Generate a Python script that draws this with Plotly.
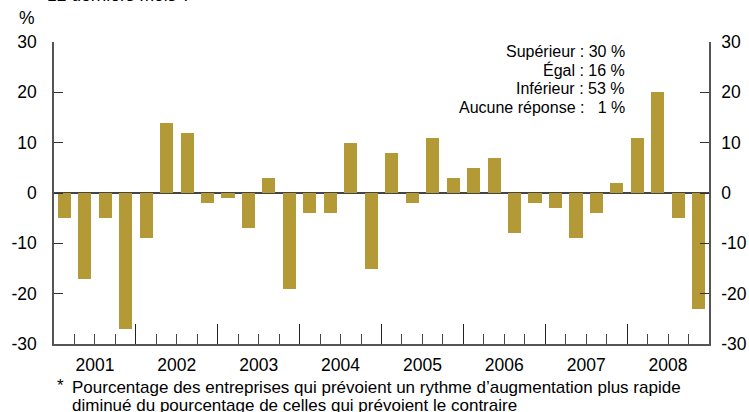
import plotly.graph_objects as go

years = ["2001", "2002", "2003", "2004", "2005", "2006", "2007", "2008"]
quarters_per_year = 4
values = [-5, -17, -5, -27,
          -9, 14, 12, -2,
          -1, -7, 3, -19,
          -4, -4, 10, -15,
          8, -2, 11, 3,
          5, 7, -8, -2,
          -3, -9, -4, 2,
          11, 20, -5, -23]
y_ticks = [-30, -20, -10, 0, 10, 20, 30]
y_ticktext = ["-30", "-20", "-10", "0", "10", "20", "30"]
box_lines = ["Supérieur : 30 %", "Égal : 16 %", "Inférieur : 53 %", "Aucune réponse :   1 %"]
footnote = ["Pourcentage des entreprises qui prévoient un rythme d\u2019augmentation plus rapide",
            "diminué du pourcentage de celles qui prévoient le contraire"]

n = len(values)
x = list(range(n))
FONT = "Liberation Sans, Arial, sans-serif"
AX = "#555555"

W, H = 749, 412
L, R, T, B = 54, 40, 42, 68
PW, PH = W - L - R, H - T - B


def px(xp):
    return (xp - L) / PW


def py(yp):
    return (H - B - yp) / PH


fig = go.Figure()
fig.add_trace(go.Bar(x=x, y=values, marker=dict(color="#B39A36", line=dict(width=0)),
                     width=0.64, showlegend=False, hoverinfo="skip"))

year_centers = [i * quarters_per_year + 1.5 for i in range(len(years))]
year_bounds = [i * quarters_per_year - 0.5 for i in range(len(years) + 1)]

fig.update_layout(
    width=W, height=H,
    margin=dict(l=L, r=R, t=T, b=B),
    paper_bgcolor="white", plot_bgcolor="white",
    font=dict(family=FONT, size=17.5, color="black"),
    bargap=0,
    xaxis=dict(range=[-0.5, n - 0.5], tickvals=year_centers, ticktext=years,
               ticks="", showgrid=False, zeroline=False, showline=True,
               linecolor=AX, linewidth=1.5, tickfont=dict(size=17.5),
               automargin=False, ticklabelstandoff=4),
    xaxis2=dict(range=[-0.5, n - 0.5], overlaying="x", anchor="y", side="bottom",
                tickvals=year_bounds, ticks="inside", ticklen=20, tickwidth=1.2,
                tickcolor="#222222", showticklabels=False, showgrid=False,
                zeroline=False, showline=False, automargin=False,
                minor=dict(tick0=-0.5, dtick=1, ticks="inside", ticklen=10,
                           tickwidth=1.2, tickcolor="#444444", showgrid=False)),
    yaxis=dict(range=[-30, 30], tickvals=y_ticks, ticktext=y_ticktext,
               ticks="inside", ticklen=9, tickwidth=1.2, tickcolor="#333333",
               showgrid=False, showline=True, linecolor=AX, linewidth=1.5,
               zeroline=True, zerolinecolor="#444444", zerolinewidth=1.5,
               ticklabelstandoff=12, tickfont=dict(size=17.5), automargin=False),
    yaxis2=dict(range=[-30, 30], overlaying="y", side="right", anchor="x",
                tickvals=y_ticks, ticktext=y_ticktext,
                ticks="inside", ticklen=9, tickwidth=1.2, tickcolor="#333333",
                showgrid=False, showline=True, linecolor=AX, linewidth=1.5,
                zeroline=False, ticklabelstandoff=7, tickfont=dict(size=17.5),
                automargin=False),
)

# invisible trace so the right axis is drawn
fig.add_trace(go.Scatter(x=[x[0]], y=[values[0]], yaxis="y2", xaxis="x2", mode="markers",
                         marker=dict(opacity=0), showlegend=False, hoverinfo="skip"))

fig.add_annotation(text="%", xref="paper", yref="paper", x=px(27), y=py(18.5),
                   xanchor="center", yanchor="middle", showarrow=False,
                   font=dict(size=17.5))
fig.add_annotation(text="12 derniers mois ?", xref="paper", yref="paper", x=px(45), y=py(-5.5),
                   xanchor="left", yanchor="middle", showarrow=False,
                   font=dict(size=17.5))
for line, ypix in zip(box_lines, [52, 70, 88.5, 107]):
    fig.add_annotation(text=line, xref="paper", yref="paper",
                       x=px(627), y=py(ypix), xanchor="right", yanchor="middle",
                       showarrow=False, font=dict(size=16))
fig.add_annotation(text="*", xref="paper", yref="paper", x=px(55), y=py(385),
                   xanchor="left", yanchor="middle", showarrow=False,
                   font=dict(size=17))
for line, ypix in zip(footnote, [387, 405]):
    fig.add_annotation(text=line, xref="paper", yref="paper",
                       x=px(70), y=py(ypix), xanchor="left", yanchor="middle",
                       showarrow=False, font=dict(size=17))

fig.write_html("out.html", config={"displayModeBar": False},
               post_script="document.body.style.margin='0';document.body.style.overflow='hidden';")
